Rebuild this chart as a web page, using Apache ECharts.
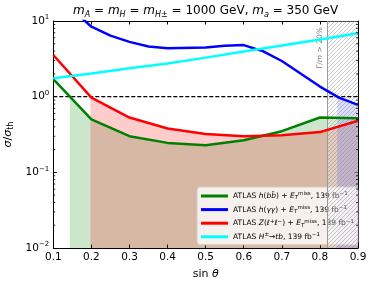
<!DOCTYPE html>
<html><head><meta charset="utf-8">
<script src="https://cdn.jsdelivr.net/npm/echarts@6/dist/echarts.min.js"></script>
<style>html,body{margin:0;padding:0;background:#fff}#c{width:374px;height:285px}</style>
</head><body><div id="c"></div>
<script>
// ---- data ----
const sinTheta   = [0.1, 0.2, 0.3, 0.4, 0.5, 0.6, 0.7, 0.8, 0.9];
const hbbMet     = [1.70, 0.50, 0.30, 0.245, 0.228, 0.265, 0.35, 0.53, 0.52];
const zllMet     = [3.55, 0.97, 0.53, 0.38, 0.32, 0.30, 0.31, 0.34, 0.48];
const hplusTb    = [1.75, 2.03, 2.37, 2.75, 3.28, 3.95, 4.74, 5.70, 6.87];
const sinThetaGG = [0.1, 0.2, 0.25, 0.3, 0.35, 0.4, 0.5, 0.55, 0.6, 0.65, 0.7, 0.8, 0.85, 0.9];
const hggMet     = [24, 8.4, 6.4, 5.3, 4.6, 4.35, 4.45, 4.7, 4.8, 4.0, 2.96, 1.36, 0.97, 0.78];
const widthExcluded = [0.82, 0.9];   // Γ/m > 20% band
const widthLabelAt  = [0.8, 4.4];
const xTicks = [0.1, 0.2, 0.3, 0.4, 0.5, 0.6, 0.7, 0.8, 0.9];
const yTicks = [0.01, 0.1, 1, 10];
const seriesNames = ['hbb', 'hgg', 'zll', 'htb'];
const seriesColors = ['#008000', '#0000ff', '#ff0000', '#00ffff'];
const legendLabels = {
  hbb: 'ATLAS {i|h}({i|bb̄}) + {i|E}{sub|T}{sup|miss}, 139 fb{sup|−1}',
  hgg: 'ATLAS {i|h}({i|γγ}) + {i|E}{sub|T}{sup|miss}, 139 fb{sup|−1}',
  zll: 'ATLAS {i|Z}({i|ℓ}{sup|+}{i|ℓ}{sup|−}) + {i|E}{sub|T}{sup|miss}, 139 fb{sup|−1}',
  htb: 'ATLAS {i|H}{sup|±}→{i|tb}, 139 fb{sup|−1}'
};

const X0 = 0.1, X1 = 0.9, Y0 = 0.01, Y1 = 10;
const FONT = 'DejaVu Sans';

function regionBelowOne(xs, ys) {
  const pts = [];
  for (let i = 0; i < xs.length; i++) {
    const below = ys[i] < 1;
    if (i > 0 && (ys[i - 1] < 1) !== below) {
      const l0 = Math.log10(ys[i - 1]), l1 = Math.log10(ys[i]);
      const t = l0 / (l0 - l1);
      pts.push([xs[i - 1] + t * (xs[i] - xs[i - 1]), 1]);
    }
    if (below) pts.push([xs[i], ys[i]]);
  }
  return pts;
}

function fillSeries(xs, ys, color, z) {
  return {
    type: 'custom', coordinateSystem: 'cartesian2d', data: [[0.5, 1]], silent: true, z: z, clip: true,
    renderItem: function (params, api) {
      const pts = regionBelowOne(xs, ys);
      const poly = pts.concat([[pts[pts.length - 1][0], Y0], [pts[0][0], Y0]]).map(p => api.coord(p));
      return { type: 'polygon', shape: { points: poly }, style: { fill: color } };
    }
  };
}

// hatch pattern
const pc = document.createElement('canvas');
pc.width = 4; pc.height = 4;
const pctx = pc.getContext('2d');
pctx.fillStyle = 'rgba(120,120,120,0.4)';
for (let i = 0; i < 4; i++) pctx.fillRect(i, 3 - i, 1, 1);

const minorVals = [];
for (let e = -2; e < 1; e++) for (let k = 2; k <= 9; k++) minorVals.push(k * Math.pow(10, e));

const supMinus = (n) => (n < 0 ? '−' + Math.abs(n) : '' + n);

const chart = echarts.init(document.getElementById('c'), null, { renderer: 'canvas' });

const lineSeries = [
  { x: sinTheta, y: hbbMet }, { x: sinThetaGG, y: hggMet }, { x: sinTheta, y: zllMet }, { x: sinTheta, y: hplusTb }
].map((d, i) => ({
  name: seriesNames[i], type: 'line', symbol: 'none', clip: true, z: 10,
  data: d.x.map((x, j) => [x, d.y[j]]),
  itemStyle: { color: seriesColors[i] },
  lineStyle: { color: seriesColors[i], width: 2.5 }
}));

chart.setOption({
  animation: false,
  textStyle: { fontFamily: FONT },
  title: {
    text: '{i|m}{sub|A} = {i|m}{sub|H} = {i|m}{sub|H±} = 1000 GeV, {i|m}{sub|a} = 350 GeV',
    left: 205.6, top: 3, textAlign: 'center', padding: 0,
    textStyle: {
      fontFamily: FONT, fontSize: 12, fontWeight: 'normal', color: '#000', lineHeight: 16,
      rich: {
        i: { fontFamily: FONT, fontSize: 12, fontStyle: 'italic', lineHeight: 16 },
        sub: { fontFamily: FONT, fontSize: 8, fontStyle: 'italic', verticalAlign: 'bottom', lineHeight: 10 }
      }
    }
  },
  grid: { left: 53.3, right: 16, top: 21, bottom: 37, containLabel: false, outerBoundsMode: 'none' },
  legend: {
    data: seriesNames, orient: 'vertical', left: 197, top: 187,
    icon: 'rect', itemWidth: 27, itemHeight: 3, itemGap: 3.6,
    padding: [4, 4, 3, 4],
    backgroundColor: 'rgba(255,255,255,0.8)', borderColor: '#cccccc', borderWidth: 1, borderRadius: 3,
    formatter: (name) => legendLabels[name],
    textStyle: {
      fontFamily: FONT, fontSize: 7.5, color: '#000', lineHeight: 10,
      rich: {
        i: { fontFamily: FONT, fontSize: 7.5, fontStyle: 'italic', lineHeight: 10 },
        sup: { fontFamily: FONT, fontSize: 5.5, verticalAlign: 'top', lineHeight: 6 },
        sub: { fontFamily: FONT, fontSize: 5.5, fontStyle: 'italic', verticalAlign: 'bottom', lineHeight: 6 }
      }
    }
  },
  xAxis: [{
    type: 'value', min: X0, max: X1, interval: 0.1, position: 'bottom',
    axisLine: { show: true, onZero: false, lineStyle: { color: '#000', width: 1 } },
    axisTick: { show: true, inside: true, length: 3.5, lineStyle: { color: '#000' } },
    axisLabel: { color: '#000', fontSize: 10.5, fontFamily: FONT, margin: 4, formatter: v => v.toFixed(1) },
    splitLine: { show: false },
    name: 'sin {i|θ}', nameLocation: 'middle', nameGap: 21,
    nameTextStyle: { color: '#000', fontSize: 11, fontFamily: FONT, rich: { i: { fontSize: 11, fontStyle: 'italic', fontFamily: FONT } } }
  }, {
    type: 'value', min: X0, max: X1, interval: 0.1, position: 'top',
    axisLine: { show: true, onZero: false, lineStyle: { color: '#000', width: 1 } },
    axisTick: { show: true, inside: true, length: 3.5, lineStyle: { color: '#000' } },
    axisLabel: { show: false }, splitLine: { show: false }
  }],
  yAxis: [{
    type: 'log', logBase: 10, min: Y0, max: Y1, position: 'left',
    axisLine: { show: true, onZero: false, lineStyle: { color: '#000', width: 1 } },
    axisTick: { show: true, inside: true, length: 3.5, lineStyle: { color: '#000' } },
    axisLabel: {
      color: '#000', fontSize: 10.5, fontFamily: FONT, margin: 4,
      formatter: v => '{b|10}{s|' + supMinus(Math.round(Math.log10(v))) + '}',
      rich: { b: { fontSize: 10.5, fontFamily: FONT, lineHeight: 14 }, s: { fontSize: 7, fontFamily: FONT, verticalAlign: 'top', lineHeight: 8 } }
    },
    splitLine: { show: false },
    name: '{i|σ}/{i|σ}{sub|th}', nameLocation: 'middle', nameGap: 31, nameRotate: 90,
    nameTextStyle: { color: '#000', fontSize: 11, fontFamily: FONT,
      rich: { i: { fontSize: 11, fontStyle: 'italic', fontFamily: FONT, lineHeight: 14 }, sub: { fontSize: 8, fontFamily: FONT, verticalAlign: 'bottom', lineHeight: 8 } } }
  }, {
    type: 'log', logBase: 10, min: Y0, max: Y1, position: 'right',
    axisLine: { show: true, onZero: false, lineStyle: { color: '#000', width: 1 } },
    axisTick: { show: true, inside: true, length: 3.5, lineStyle: { color: '#000' } },
    axisLabel: { show: false }, splitLine: { show: false }
  }],
  series: [
    fillSeries(sinTheta, hbbMet, 'rgba(0,128,0,0.2)', 1),
    fillSeries(sinTheta, zllMet, 'rgba(255,0,0,0.2)', 2),
    fillSeries(sinThetaGG, hggMet, 'rgba(0,0,255,0.2)', 3),
    {
      type: 'custom', coordinateSystem: 'cartesian2d', data: [[widthExcluded[0], Y1]], silent: true, z: 4, clip: true,
      renderItem: function (params, api) {
        const a = api.coord([widthExcluded[0], Y1]);
        const b = api.coord([widthExcluded[1], Y0]);
        const t = api.coord(widthLabelAt);
        return {
          type: 'group', children: [
            { type: 'rect', shape: { x: a[0], y: a[1], width: b[0] - a[0], height: b[1] - a[1] }, style: { fill: 'rgba(255,255,255,0.3)' } },
            { type: 'rect', shape: { x: a[0], y: a[1], width: b[0] - a[0], height: b[1] - a[1] }, style: { fill: { image: pc, repeat: 'repeat' } } },
            { type: 'line', shape: { x1: a[0], y1: a[1], x2: a[0], y2: b[1] }, style: { stroke: '#999', lineWidth: 1 } },
            { type: 'text', x: t[0], y: t[1], rotation: Math.PI / 2,
              style: { text: 'Γ/{i|m} > 20%', fill: '#777', fontSize: 7.5, fontFamily: FONT, align: 'center', verticalAlign: 'middle',
                rich: { i: { fontSize: 7.5, fontStyle: 'italic', fontFamily: FONT, fill: '#777' } } } }
          ]
        };
      }
    },
    {
      type: 'custom', coordinateSystem: 'cartesian2d', data: minorVals.map(v => [X0, v]), silent: true, z: 20, clip: false,
      renderItem: function (params, api) {
        const v = api.value(1);
        const l = api.coord([X0, v]);
        const r = api.coord([X1, v]);
        return {
          type: 'group', children: [
            { type: 'line', shape: { x1: l[0], y1: l[1], x2: l[0] + 2, y2: l[1] }, style: { stroke: '#000', lineWidth: 0.8 } },
            { type: 'line', shape: { x1: r[0] - 2, y1: r[1], x2: r[0], y2: r[1] }, style: { stroke: '#000', lineWidth: 0.8 } }
          ]
        };
      }
    },
    {
      name: 'unity', type: 'line', symbol: 'none', z: 9, silent: true,
      data: [[X0, 1], [X1, 1]],
      lineStyle: { color: '#000', width: 1.2, type: [4, 2] }
    }
  ].concat(lineSeries)
});
</script>
</body></html>
